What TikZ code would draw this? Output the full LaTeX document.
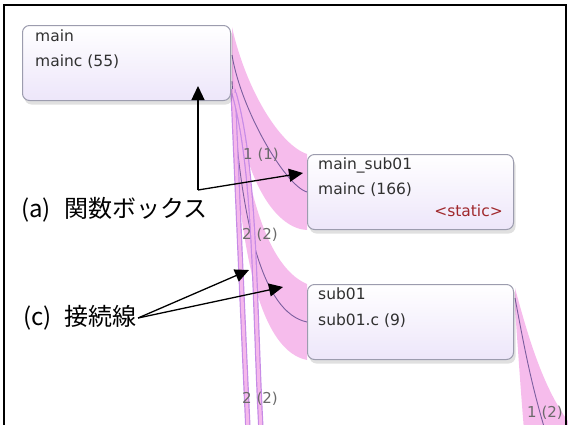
\documentclass[tikz,border=0pt]{standalone}
\usepackage{fontspec}
\newfontfamily\boxfont{DejaVu Sans}
\newfontfamily\jpfont{Noto Sans CJK JP}
\usepackage{tikz}
\usetikzlibrary{arrows.meta,backgrounds,calc,shadows}
\definecolor{TracePink}{HTML}{F3A6E6}
\definecolor{TraceLine}{HTML}{7B5E9E}
\definecolor{TraceViolet}{HTML}{C68BE6}
\definecolor{TraceBoxEdge}{HTML}{9C9CAE}
\definecolor{TraceBoxFill}{HTML}{EDE6FA}
\definecolor{TraceTxt}{HTML}{303030}
\definecolor{TraceGreyTxt}{HTML}{6A6A6A}
\definecolor{TraceRed}{HTML}{A0282C}

\begin{document}
\begin{tikzpicture}[
            x=1pt, y=-1pt,
            fnbox/.style={
                    draw=TraceBoxEdge,
                    line width=1pt,
                    rounded corners=7pt,
                    top color=white,
                    bottom color=TraceBoxFill,
                    minimum width=208pt,
                    minimum height=75pt,
                    inner sep=0pt,
                    anchor=north west,
                    drop shadow={shadow xshift=2pt, shadow yshift=-4pt, fill=black, opacity=0.12}
                },
            fntext/.style={
                    font=\boxfont\fontsize{15.5}{18}\selectfont,
                    text=TraceTxt,
                    inner sep=0pt,
                    anchor=west,
                    text height=11pt,
                    text depth=3pt
                },
            staticmark/.style={fntext, anchor=east, text=TraceRed},
            band/.style={fill=TracePink, fill opacity=0.75, draw=none},
            callline/.style={draw=TraceLine, line width=0.9pt},
            calltrunk/.style={draw=TraceViolet, line width=1.2pt, double=TracePink!80, double distance=3pt},
            calllabel/.style={font=\boxfont\fontsize{15}{18}\selectfont, text=TraceGreyTxt, inner sep=0pt},
            note/.style={font=\jpfont\fontsize{24}{27}\selectfont, inner sep=1pt, anchor=west},
            pointer/.style={-{Triangle[length=14pt,width=13pt]}, line width=1.3pt, draw=black},
        ]
        \useasboundingbox (0,0) rectangle (568,424);
        \clip (0,0) rectangle (568,424);

        % Function boxes
        \node[fnbox] (main) at (22,25) {};
        \node[fnbox, minimum width=206pt] (msub) at (307,154) {};
        \node[fnbox, minimum width=206pt] (sub) at (307,284) {};

        \node[fntext] (main-name) at ($(main.north west)+(13,12)$) {main};
        \node[fntext] (main-file) at ($(main.north west)+(13,37)$) {mainc (55)};
        \node[fntext] (msub-name) at ($(msub.north west)+(11,11)$) {main\_sub01};
        \node[fntext] (msub-file) at ($(msub.north west)+(11,36)$) {mainc (166)};
        \node[staticmark] (msub-static) at ($(msub.north east)+(-11,58)$) {<static>};
        \node[fntext] (sub-name) at ($(sub.north west)+(11,11)$) {sub01};
        \node[fntext] (sub-file) at ($(sub.north west)+(11,37)$) {sub01.c (9)};

        % Callees below the picture
        \coordinate (callee-a) at (248,430);
        \coordinate (callee-b) at (261,430);
        \coordinate (callee-c) at (545,430);
        \coordinate (callee-c-left) at (524,430);
        \coordinate (callee-c-right) at (575,430);

        % Connectors (behind the boxes)
        \begin{scope}[on background layer]
            \clip (0,0) rectangle (568,424);
            % main -> main_sub01
            \fill[band] ($(main.north east)+(1,2)$) .. controls ($(main.north east)+(15,65)$) and ($(msub.north west)+(-27,-9)$) .. (msub.north west)
            -- (msub.south west) .. controls ($(msub.south west)+(-27,-1)$) and ($(main.north east)+(10,165)$) .. ($(main.north east)+(1,45)$) -- cycle;
            % main -> sub01
            \fill[band] ($(main.north east)+(1,30)$) .. controls ($(main.north east)+(10,145)$) and ($(sub.north west)+(-45,-19)$) .. (sub.north west)
            -- (sub.south west) .. controls ($(sub.south west)+(-45,-9)$) and ($(main.south east)+(8,160)$) .. ($(main.south east)+(1,0)$) -- cycle;
            % sub01 -> callee
            \fill[band] ($(sub.north east)+(1,4)$) .. controls ($(sub.north east)+(15,56)$) and (545,395) .. (callee-c-right)
            -- (callee-c-left) .. controls (521,395) and (518,350) .. ($(sub.north east)+(1,24)$) -- cycle;

            \draw[callline] ($(main.north east)+(1,30)$) .. controls ($(main.north east)+(10,85)$) and ($(msub.west)+(-22,-6.5)$) .. (msub.west);
            \draw[callline] ($(main.south east)+(1,-20)$) .. controls ($(main.south east)+(9,120)$) and ($(sub.west)+(-45,-9.5)$) .. (sub.west);
            \draw[callline] ($(sub.north east)+(1,14)$) .. controls ($(sub.north east)+(9,56)$) and (530,380) .. (callee-c);

            \draw[calltrunk] ($(main.south east)+(2,-12)$) .. controls ($(main.south east)+(6,80)$) and (242,300) .. (callee-a);
            \draw[calltrunk] ($(main.south east)+(3,-8)$) .. controls ($(main.south east)+(25,70)$) and (254,300) .. (callee-b);
        \end{scope}

        % Connector labels
        \node[calllabel] (lab-msub) at (261,155) {1 (1)};
        \node[calllabel] (lab-sub) at (260,235) {2 (2)};
        \node[calllabel] (lab-trunk) at (260,399) {2 (2)};
        \node[calllabel] (lab-callee) at (545,413) {1 (2)};

        % Notes
        \node[note] (a-label) at (20,210) {(a)\hspace{0.55em}関数ボックス};
        \node[note] (c-label) at (22,318) {(c)\hspace{0.55em}接続線};

        \coordinate (a-bend) at (198,190);
        \coordinate (c-tip-a) at (249,270);
        \coordinate (c-tip-b) at (283,287);

        \draw[pointer] (a-bend) -- ($(main.south -| a-bend)+(0,-15)$);
        \draw[pointer] (a-bend) -- ($(msub.west)+(-4,-19)$);
        \draw[pointer] (c-label.east) -- (c-tip-a);
        \draw[pointer] (c-label.east) -- (c-tip-b);

        % Frame
        \draw[line width=2.4pt] (4,430) -- (4,5) -- (566,5) -- (566,430);

    \end{tikzpicture}
\end{document}
